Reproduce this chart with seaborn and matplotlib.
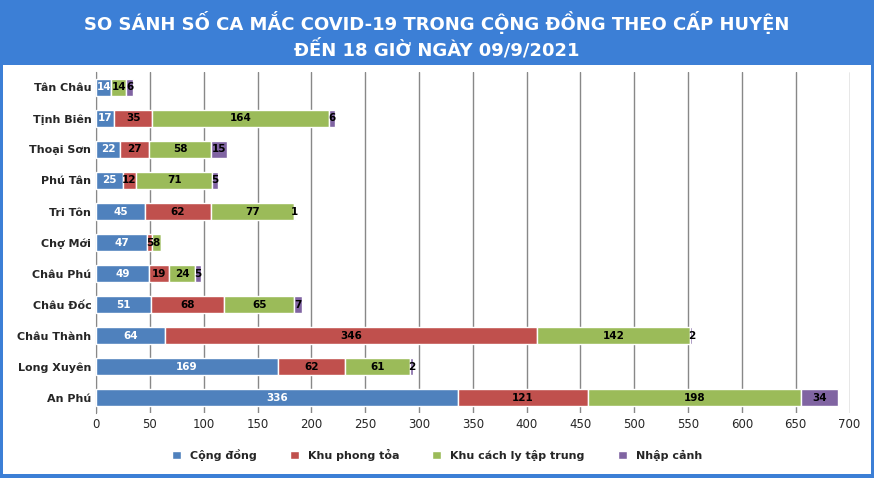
import matplotlib
matplotlib.use("Agg")
import matplotlib.pyplot as plt
import matplotlib.patches as mpatches
import seaborn as sns
import numpy as np
import pandas as pd

districts = ["Tân Châu", "Tịnh Biên", "Thoại Sơn", "Phú Tân", "Tri Tôn", "Chợ Mới",
             "Châu Phú", "Châu Đốc", "Châu Thành", "Long Xuyên", "An Phú"]
cong_dong = [14, 17, 22, 25, 45, 47, 49, 51, 64, 169, 336]
phong_toa = [0, 35, 27, 12, 62, 5, 19, 68, 346, 62, 121]
cach_ly = [14, 164, 58, 71, 77, 8, 24, 65, 142, 61, 198]
nhap_canh = [6, 6, 15, 5, 1, 0, 5, 7, 2, 2, 34]
series_names = ["Cộng đồng", "Khu phong tỏa", "Khu cách ly tập trung", "Nhập cảnh"]
colors = ["#4F81BD", "#C0504D", "#9BBB59", "#8064A2"]

df = pd.DataFrame({"district": districts, series_names[0]: cong_dong, series_names[1]: phong_toa,
                   series_names[2]: cach_ly, series_names[3]: nhap_canh})

sns.set_style("white")
fig = plt.figure(figsize=(8.74, 4.78), dpi=100)
fig.patch.set_facecolor("#3C7FD6")
fig.patches.append(mpatches.Rectangle((0.004, 0.008), 0.992, 0.855, transform=fig.transFigure,
                                      facecolor="white", edgecolor="none", zorder=-10))
ax = fig.add_axes([0.110, 0.135, 0.862, 0.715])
ax.set_zorder(5)
ax.set_facecolor("white")

y = np.arange(len(districts))
left = np.zeros(len(districts))
for name, col in zip(series_names, colors):
    vals = df[name].to_numpy()
    ax.barh(y, vals, left=left, height=0.55, color=col, label=name, zorder=3)
    for yi, l, v in zip(y, left, vals):
        if v > 0:
            ax.text(l + v / 2, yi, str(v), ha="center", va="center", fontsize=7.5, fontweight="bold",
                    color="white" if name == series_names[0] else "black", zorder=4)
    left += vals

ax.set_yticks(y)
ax.set_yticklabels(districts, fontsize=8, fontweight="bold")
ax.set_ylim(len(districts) - 0.5, -0.5)
ax.set_xlim(0, 700)
ax.set_xticks(range(0, 701, 50))
ax.tick_params(axis="x", labelsize=8.5, length=0)
ax.tick_params(axis="y", length=0)
ax.grid(axis="x", color="#888888", linewidth=1, zorder=0)
for s in ["top", "right", "bottom"]:
    ax.spines[s].set_visible(False)
ax.spines["left"].set_color("#888888")

fig.text(0.5, 0.952, "SO SÁNH SỐ CA MẮC COVID-19 TRONG CỘNG ĐỒNG THEO CẤP HUYỆN",
         ha="center", va="center", fontsize=13, fontweight="bold", color="white")
fig.text(0.5, 0.897, "ĐẾN 18 GIỜ NGÀY 09/9/2021",
         ha="center", va="center", fontsize=13, fontweight="bold", color="white")

leg = fig.legend(*ax.get_legend_handles_labels(), loc="center", bbox_to_anchor=(0.5, 0.048), ncol=4,
                 frameon=False, handlelength=0.8, handleheight=0.8, columnspacing=3,
                 prop={"weight": "bold", "size": 8})
leg.set_zorder(6)

fig.savefig("out.png", dpi=100, facecolor=fig.get_facecolor())
